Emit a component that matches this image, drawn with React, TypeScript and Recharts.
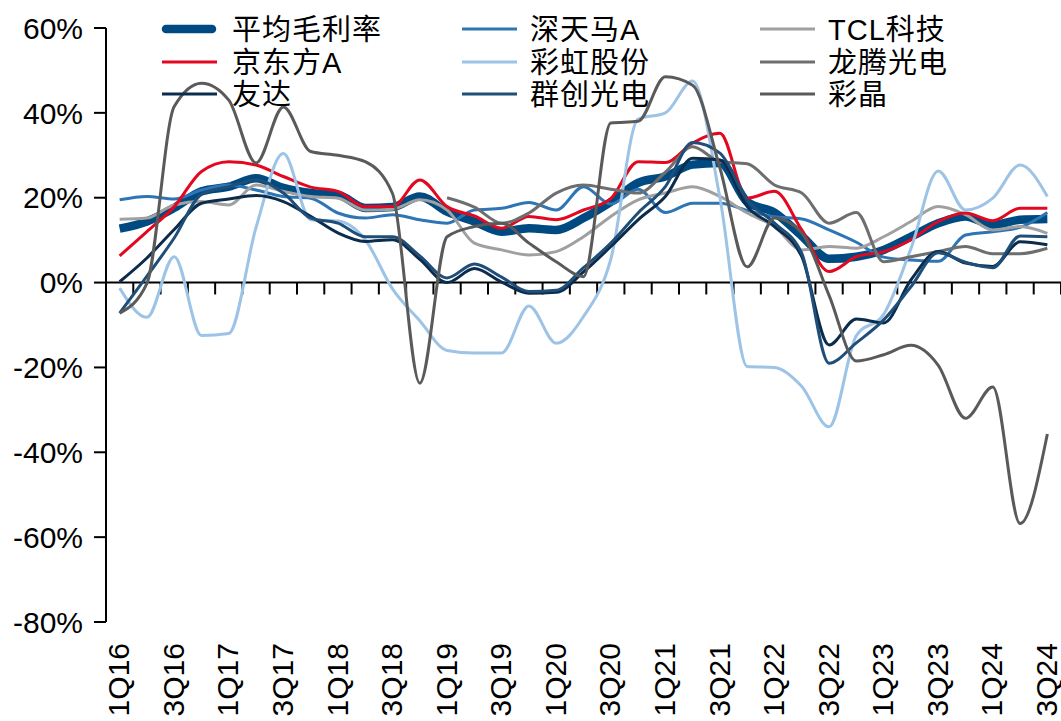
import { LineChart, Line, XAxis, YAxis, ReferenceLine, Legend } from "recharts";

const categories = [
  "1Q16", "2Q16", "3Q16", "4Q16", "1Q17", "2Q17", "3Q17", "4Q17",
  "1Q18", "2Q18", "3Q18", "4Q18", "1Q19", "2Q19", "3Q19", "4Q19",
  "1Q20", "2Q20", "3Q20", "4Q20", "1Q21", "2Q21", "3Q21", "4Q21",
  "1Q22", "2Q22", "3Q22", "4Q22", "1Q23", "2Q23", "3Q23", "4Q23",
  "1Q24", "2Q24", "3Q24",
];

// gross margin, %
const avgMargin = [
  12.7, 14.4, 17.6, 21.5, 22.6, 24.6, 22.3, 21.1, 20.7, 17.6, 17.8, 20.3,
  16.7, 14.4, 12.0, 12.8, 12.4, 15.2, 19.0, 23.5, 25.0, 27.8, 28.2, 19.0,
  16.5, 11.0, 5.6, 6.1, 7.7, 10.8, 14.0, 15.6, 13.6, 14.8, 15.0,
];
const tianma = [
  19.5, 20.3, 19.7, 21.8, 23.0, 21.8, 20.3, 19.9, 16.4, 15.2, 16.0, 14.8,
  14.0, 17.1, 17.5, 18.9, 17.1, 22.6, 18.5, 22.0, 16.5, 18.7, 18.7, 17.0,
  15.5, 15.0, 12.4, 9.5, 6.0, 5.3, 5.0, 11.2, 12.0, 13.0, 16.5,
];
const tcl = [
  14.9, 15.2, 18.3, 19.1, 18.3, 23.0, 21.5, 20.3, 19.9, 17.1, 17.3, 19.5,
  17.1, 9.3, 7.7, 6.5, 7.3, 10.8, 15.6, 19.5, 21.1, 22.6, 20.3, 16.4,
  13.2, 7.7, 8.5, 8.1, 10.8, 14.4, 17.9, 16.0, 12.4, 13.2, 11.6,
];
const boe = [
  6.3, 12.0, 17.9, 26.2, 28.5, 27.7, 25.0, 22.5, 21.5, 17.9, 17.9, 24.2,
  17.9, 15.7, 12.8, 15.6, 14.8, 17.1, 19.8, 28.5, 28.3, 32.9, 35.2, 19.9,
  21.5, 12.4, 2.6, 6.1, 7.3, 10.1, 14.4, 16.4, 14.6, 17.5, 17.5,
];
const irico = [
  -1.3, -8.2, 6.1, -12.5, -12.0, 13.0, 30.4, 14.8, 14.5, 10.1, -1.5, -9.0,
  -16.0, -16.6, -16.6, -5.5, -14.3, -8.0, 5.5, 38.5, 40.0, 47.5, 20.0, -19.8,
  -20.0, -24.5, -34.0, -12.5, -7.5, 8.0, 26.3, 17.1, 19.9, 27.7, 20.3,
];
const ivo = [
  null, null, null, null, null, null, null, null, null, null, null, null,
  20.0, 17.8, 14.0, 16.4, 21.1, 23.0, 22.0, 21.1, 26.0, 32.0, 28.5, 28.0,
  23.0, 21.1, 14.0, 16.5, 4.9, 6.1, 7.3, 8.5, 6.8, 6.8, 8.1,
];
const auo = [
  0.2, 5.8, 12.5, 18.7, 19.7, 20.5, 19.1, 15.6, 11.7, 9.7, 10.1, 5.5,
  0.0, 3.3, 0.1, -2.5, -2.3, 2.5, 8.5, 14.8, 20.3, 29.3, 28.9, 17.9,
  13.2, 6.1, -14.7, -8.6, -9.5, 0.6, 7.3, 4.6, 3.8, 9.6, 8.9,
];
const innolux = [
  -7.2, 1.5, 10.5, 20.8, 22.6, 24.2, 21.1, 15.2, 14.0, 10.8, 10.8, 6.3,
  1.1, 4.4, 1.3, -2.1, -1.8, 3.5, 9.3, 16.4, 22.6, 33.0, 30.5, 19.5,
  14.0, 6.9, -19.0, -14.2, -8.8, -1.0, 7.0, 4.8, 3.5, 11.0, 10.8,
];
const hannstar = [
  -7.2, -0.2, 41.5, 47.0, 43.0, 28.2, 41.4, 30.9, 30.0, 28.5, 21.0, -23.7,
  10.8, 13.2, 14.0, 9.3, 4.9, 1.4, 37.6, 38.0, 48.5, 46.5, 27.0, 3.7,
  15.2, 11.7, -3.0, -18.5, -17.0, -14.8, -19.5, -32.0, -24.6, -56.8, -35.7,
];

const yTicks = [-80, -60, -40, -20, 0, 20, 40, 60];

const series = [
  { key: "avg", name: "平均毛利率", color: "#004A82", width: 8.5, values: avgMargin },
  { key: "tianma", name: "深天马A", color: "#2E75B6", width: 3, values: tianma },
  { key: "tcl", name: "TCL科技", color: "#A0A0A0", width: 3, values: tcl },
  { key: "boe", name: "京东方A", color: "#E3081F", width: 3, values: boe },
  { key: "irico", name: "彩虹股份", color: "#9DC3E6", width: 3, values: irico },
  { key: "ivo", name: "龙腾光电", color: "#6E6E6E", width: 3, values: ivo },
  { key: "auo", name: "友达", color: "#0B2C4C", width: 3, values: auo },
  { key: "innolux", name: "群创光电", color: "#1F4E79", width: 3, values: innolux },
  { key: "hannstar", name: "彩晶", color: "#5A5A5A", width: 3, values: hannstar },
];

const data = categories.map((label, i) => {
  const row: Record<string, number | string | null> = { idx: i, label };
  series.forEach((s) => {
    row[s.key] = s.values[i];
  });
  return row;
});

const labelTicks = categories.map((_, i) => i).filter((i) => i % 2 === 0);
const boundaries = categories.map((_, i) => i - 0.5).concat(categories.length - 0.5);

const FONT = "'Liberation Sans', Arial, 'Noto Sans CJK SC', sans-serif";

function QuarterTick(props: any) {
  const { x, y, payload } = props;
  const ty = y + 21;
  return (
    <text
      x={x}
      y={ty}
      transform={`rotate(-90, ${x}, ${ty})`}
      textAnchor="end"
      dy="0.32em"
      fontSize={30}
      fill="#000"
      fontFamily={FONT}
    >
      {categories[payload.value]}
    </text>
  );
}

const legendLineX = [162, 462, 760];
const legendTextX = [232, 530, 828];

function renderLegend() {
  return (
    <div style={{ position: "relative", width: 1061, height: 0 }}>
      {series.map((s, i) => {
        const col = i % 3;
        const row = Math.floor(i / 3);
        const cy = 29 + row * 32.7;
        return (
          <div key={s.key}>
            <svg
              width={60}
              height={12}
              style={{ position: "absolute", left: legendLineX[col] - 2, top: cy - 6 }}
            >
              <line
                x1={s.width > 4 ? 6 : 2}
                x2={s.width > 4 ? 52 : 57}
                y1={6}
                y2={6}
                stroke={s.color}
                strokeWidth={s.width}
                strokeLinecap={s.width > 4 ? "round" : "butt"}
              />
            </svg>
            <span
              style={{
                position: "absolute",
                left: legendTextX[col],
                top: cy - 17,
                fontSize: 29,
                lineHeight: "36px",
                letterSpacing: 1,
                whiteSpace: "nowrap",
                color: "#000",
                fontFamily: FONT,
              }}
            >
              {s.name}
            </span>
          </div>
        );
      })}
    </div>
  );
}

export default function App() {
  return (
    <div style={{ position: "absolute", left: 0, top: 0, width: 1061, height: 721, background: "#fff" }}>
      <LineChart
        width={1061}
        height={721}
        data={data}
        margin={{ top: 28, right: 0, bottom: 0, left: 0 }}
        style={{ fontFamily: FONT }}
      >
        <XAxis
          dataKey="idx"
          type="number"
          domain={[-0.5, categories.length - 0.5]}
          allowDataOverflow
          ticks={labelTicks}
          interval={0}
          height={99}
          axisLine={false}
          tickLine={false}
          tickSize={0}
          tickMargin={0}
          tick={<QuarterTick />}
        />
        <YAxis
          type="number"
          domain={[-80, 60]}
          allowDataOverflow
          ticks={yTicks}
          interval={0}
          width={106}
          tickSize={12}
          tickMargin={11}
          axisLine={{ stroke: "#000", strokeWidth: 2 }}
          tickLine={{ stroke: "#000", strokeWidth: 2 }}
          tick={{ fontSize: 30, fill: "#000", fontFamily: FONT }}
          tickFormatter={(v: number) => `${v}%`}
        />
        <ReferenceLine y={0} stroke="#000" strokeWidth={2} />
        {boundaries.map((b) => (
          <ReferenceLine
            key={b}
            segment={[
              { x: b, y: 0 },
              { x: b, y: -2.8 },
            ]}
            stroke="#000"
            strokeWidth={2}
          />
        ))}
        <Legend
          layout="vertical"
          verticalAlign="middle"
          align="center"
          content={renderLegend}
          wrapperStyle={{ position: "absolute", left: 0, top: 0, width: 1061, height: 0 }}
        />
        {series.map((s) => (
          <Line
            key={s.key}
            type="monotone"
            dataKey={s.key}
            name={s.name}
            stroke={s.color}
            strokeWidth={s.width}
            strokeLinejoin="round"
            dot={false}
            activeDot={false}
            isAnimationActive={false}
          />
        ))}
      </LineChart>
    </div>
  );
}
